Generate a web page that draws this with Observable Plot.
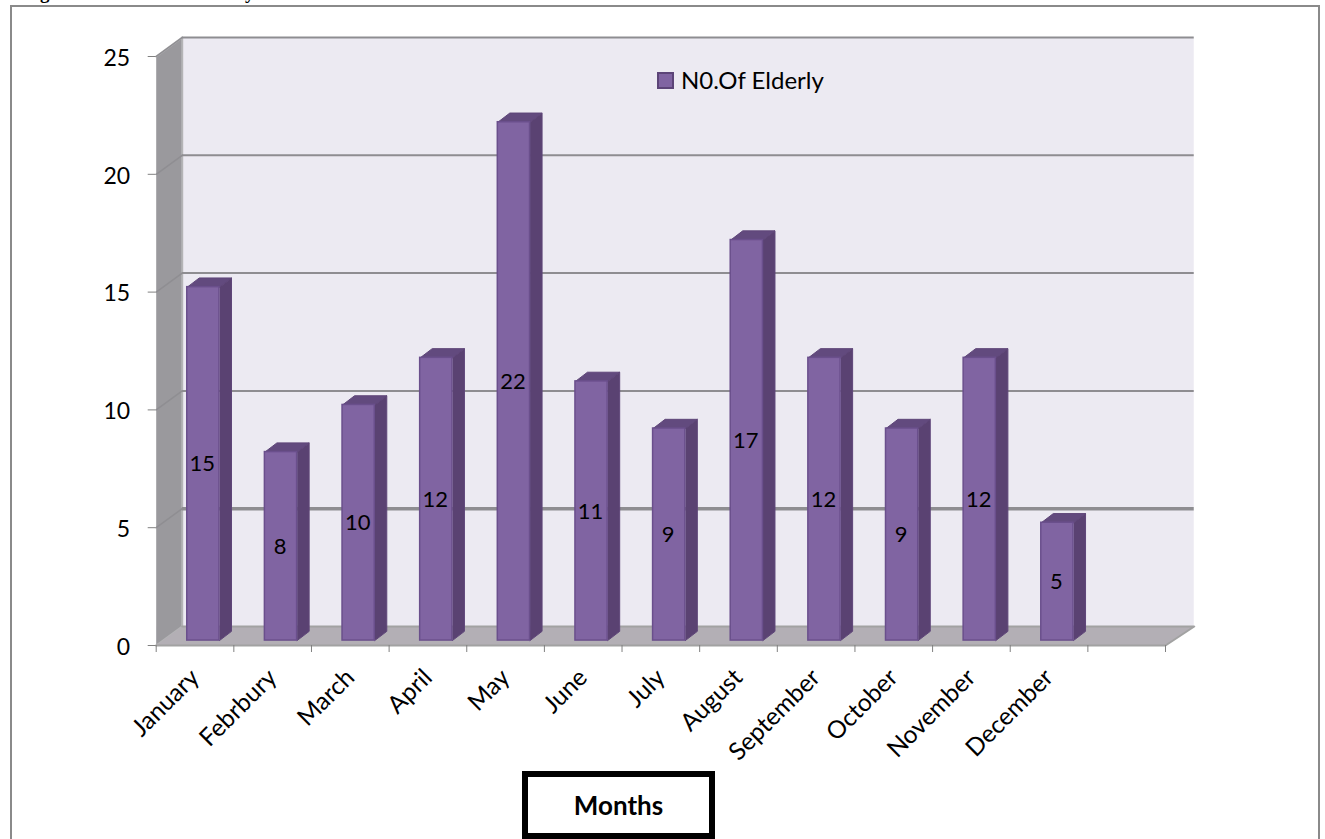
<!DOCTYPE html>
<html><head><meta charset="utf-8">
<script src="https://cdn.jsdelivr.net/npm/d3@7"></script>
<script src="https://cdn.jsdelivr.net/npm/@observablehq/plot@0.6"></script>
<style>
html,body{margin:0;padding:0;background:#fff;width:1325px;height:839px;overflow:hidden}
#page{position:relative;width:1325px;height:839px;overflow:hidden;font-family:Lato,sans-serif;color:#000}
#page svg{position:absolute;left:0;top:0}
#frame{position:absolute;left:10px;top:5px;width:1310px;height:900px;box-sizing:border-box;border:2px solid #8a8a8a}
#title{position:absolute;left:23px;top:-17px;font:bold 19px/20px "Liberation Serif",serif;white-space:nowrap}
#legend{position:absolute;left:657px;top:66px;display:flex;align-items:center;font-size:24px;line-height:28px;white-space:nowrap}
#legend i{display:inline-block;width:13px;height:13px;background:#8064A2;border:2px solid #5c4478;margin-right:7px}
#xlabel{position:absolute;left:522px;top:771px;width:181px;height:56px;border:6px solid #000;background:#fff;text-align:center;font-weight:bold;font-size:26px;line-height:56px}
</style></head><body>
<div id="page">
<div id="frame"></div>
<div id="title">Figure 1: Number of Elderly</div>
<div id="chart"></div>
<div id="legend"><i></i><span>N0.Of Elderly</span></div>
<div id="xlabel">Months</div>
</div>
<script>
const months = ["January","Febrbury","March","April","May","June","July","August","September","October","November","December"];
const elderly = [15,8,10,12,22,11,9,17,12,9,12,5];
const yTicks = [0,5,10,15,20,25];
const slots = 13;

const rows = months.map((month,i)=>({month,i,value:elderly[i]}));
const wallX = 0.335, wallXr = 0.37, wallY = 0.806;
const barL = 0.40, barW = 0.415, barBase = 0.21, depthX = 0.155, depthY = 0.39;

const sides = rows.flatMap(d=>{
  const a=d.i+barL+barW;
  return [[a,barBase],[a+depthX,barBase+depthY],[a+depthX,d.value+barBase+depthY],[a,d.value+barBase]].map(([x,y])=>({x,y,id:d.i}));
});
const tops = rows.flatMap(d=>{
  const a=d.i+barL,t=d.value+barBase;
  return [[a,t],[a+depthX,t+depthY],[a+barW+depthX,t+depthY],[a+barW,t]].map(([x,y])=>({x,y,id:d.i}));
});
const sideWall = [[0,0],[wallX,wallY],[wallX,25+wallY],[0,25]].map(([x,y])=>({x,y}));
const floor = [[0,0],[slots,0],[slots+wallXr,wallY],[wallX,wallY]].map(([x,y])=>({x,y}));
const diag = yTicks.slice(1).flatMap(v=>[[0,v],[wallX,v+wallY]].map(([x,y])=>({x,y,id:v})));

const plot = Plot.plot({
  width:1325,height:839,
  marginLeft:155.7,marginRight:160,marginTop:56,marginBottom:194,
  x:{domain:[0,slots],axis:null},
  y:{domain:[0,25],axis:null},
  style:{background:"none",fontFamily:"Lato,sans-serif",overflow:"visible"},
  marks:[
    Plot.rect([0],{x1:wallX,x2:slots+wallXr,y1:wallY,y2:25+wallY,fill:"#ECEAF2"}),
    Plot.line(sideWall,{x:"x",y:"y",fill:"#9A999D",stroke:"#B4B4B6",strokeWidth:2}),
    Plot.line(floor,{x:"x",y:"y",fill:"#B3AFB5",stroke:"#A2A2A2",strokeWidth:2}),
    Plot.line(diag,{x:"x",y:"y",z:"id",stroke:"#8F8E92",strokeWidth:1.5}),
    Plot.ruleY(yTicks.filter(v=>v>0),{y:d=>d+wallY,x1:wallX,x2:slots+wallXr,stroke:"#8E8D91",strokeWidth:d=>d===5?3.5:2}),
    Plot.axisY({ticks:yTicks,anchor:"left",tickSize:8,tickFormat:()=>"",stroke:"#808080",label:null}),
    Plot.axisY({ticks:yTicks,anchor:"left",tickSize:0,tickPadding:26,dy:2,fontSize:23,fill:"#000",label:null}),
    Plot.axisX({ticks:d3.range(slots+1),anchor:"bottom",tickSize:7,tickFormat:()=>"",stroke:"#808080",label:null}),
    Plot.axisX({ticks:months.map((m,i)=>i+0.5),anchor:"bottom",tickSize:0,tickPadding:28,tickRotate:-45,fontSize:24.5,fill:"#000",tickFormat:d=>months[Math.floor(d)],label:null}),
    Plot.line(sides,{x:"x",y:"y",z:"id",fill:"#5A4272",stroke:"#5F4679",strokeWidth:1}),
    Plot.line(tops,{x:"x",y:"y",z:"id",fill:"#624A7E",stroke:"#5F4679",strokeWidth:1}),
    Plot.rect(rows,{x1:d=>d.i+barL,x2:d=>d.i+barL+barW,y1:barBase,y2:d=>d.value+barBase,fill:"#8064A2",stroke:"#6A4F8C",strokeWidth:1.5}),
    Plot.text(rows,{x:d=>d.i+barL+barW/2,y:d=>d.value/2+barBase,text:d=>String(d.value),fontSize:22,dx:-1,dy:0.5,fill:"#000"})
  ]
});
document.getElementById("chart").append(plot);
</script>
</body></html>
